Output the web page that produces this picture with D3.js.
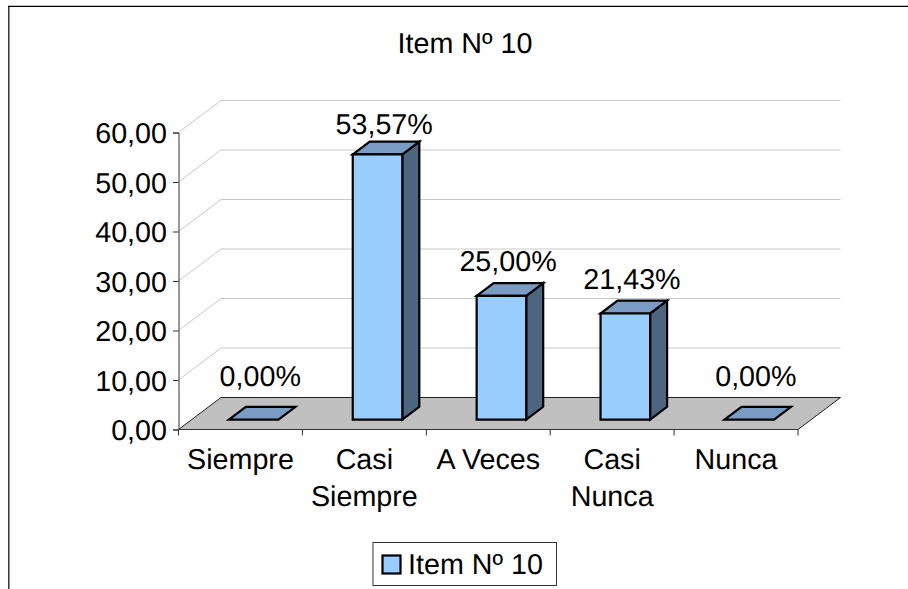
<!DOCTYPE html>
<html>
<head>
<meta charset="utf-8">
<script src="https://cdnjs.cloudflare.com/ajax/libs/d3/7.8.5/d3.min.js"></script>
<style>
html,body{margin:0;padding:0;background:#fff;}
svg{display:block;}
text{font-family:"Liberation Sans",Arial,sans-serif;fill:#000;text-rendering:geometricPrecision;}
</style>
</head>
<body>
<svg id="chart" width="908" height="589"></svg>
<script>
const categories = ["Siempre", "Casi Siempre", "A Veces", "Casi Nunca", "Nunca"];
const categoryLines = [["Siempre"], ["Casi", "Siempre"], ["A Veces"], ["Casi", "Nunca"], ["Nunca"]];
const values = [0, 53.57, 25, 21.43, 0];
const valueLabels = ["0,00%", "53,57%", "25,00%", "21,43%", "0,00%"];
const tickValues = [0, 10, 20, 30, 40, 50, 60];
const seriesName = "Item Nº 10";
const chartTitle = "Item Nº 10";

const svg = d3.select("#chart");
const FONT = 28.7;

// Plot box and the oblique projection used for the pseudo-3D look
const x0 = 178.5, x1 = 798, yBase = 429.5, yTop = 132.5;
const wallDx = 42.5, wallDy = -32;
const barNear = 0.31, barFar = 0.71;   // bar position along the depth axis
const labelShift = 19.8;               // value labels sit right of the bar's front centre
const labelLift = [21, 8, 12, 11.4, 21];

const x = d3.scaleBand().domain(categories).range([x0, x1]).paddingInner(0.6).paddingOuter(0.3);
const edges = d3.scaleLinear().domain([0, categories.length]).range([x0, x1]);
const y = d3.scaleLinear().domain([0, 60]).range([yBase, yTop]);
const depth = d3.scaleLinear().domain([0, 1]).range([[0, 0], [wallDx, wallDy]]);
const project = (px, py, d) => { const o = depth(d); return [px + o[0], py + o[1]]; };
const poly = pts => "M" + pts.map(p => p.join(",")).join("L") + "Z";

// Outer frame of the chart area: only its top and left edges fall inside the page
svg.append("path").attr("d", "M8.8,589V6.3").attr("fill", "none").attr("stroke", "#333").attr("stroke-width", 1.5);
svg.append("path").attr("d", "M8,6.3H908").attr("fill", "none").attr("stroke", "#000").attr("stroke-width", 1.2);

svg.append("text").attr("x", 465).attr("y", 52.5).attr("text-anchor", "middle")
  .attr("font-size", FONT).text(chartTitle);

// Gridlines running across the side wall and the back wall
svg.append("g").selectAll("path").data(tickValues.filter(t => t > 0)).join("path")
  .attr("d", t => `M${x0},${y(t)}L${x0 + wallDx},${y(t) + wallDy}H${x1 + wallDx}`)
  .attr("fill", "none").attr("stroke", "#c8c8c8").attr("stroke-width", 1);

// Floor
svg.append("path")
  .attr("d", poly([[x0, yBase], [x0 + wallDx, yBase + wallDy], [x1 + wallDx, yBase + wallDy], [x1, yBase]]))
  .attr("fill", "#c0c0c0").attr("stroke", "#222").attr("stroke-width", 1);

// Value axis
const fmt = d3.formatLocale({decimal: ",", thousands: ".", grouping: [3], currency: ["", ""]}).format(".2f");
const yAxis = svg.append("g").attr("transform", `translate(${x0},0)`)
  .call(d3.axisLeft(y).tickValues(tickValues).tickFormat(fmt).tickSize(5.5).tickPadding(6));
yAxis.selectAll("path,line").attr("stroke", "#333");
yAxis.selectAll("text").attr("font-size", FONT).attr("font-family", null).attr("dy", "0.35em");

// Category axis line and separators
svg.append("line").attr("x1", x0).attr("x2", x1).attr("y1", yBase).attr("y2", yBase).attr("stroke", "#333");
svg.append("g").selectAll("line").data(d3.range(categories.length + 1)).join("line")
  .attr("x1", i => edges(i)).attr("x2", i => edges(i))
  .attr("y1", yBase).attr("y2", yBase + 6).attr("stroke", "#333");

// Bars: side, top and front faces
const barGroups = svg.append("g").selectAll("g").data(categories).join("g");
const stroke = g => g.attr("stroke", "#000").attr("stroke-width", 2.2).attr("stroke-linejoin", "miter");
barGroups.each(function (c, i) {
  const g = d3.select(this), v = values[i];
  const bl = x(c), br = bl + x.bandwidth();
  const top = y(v);
  if (v > 0) {
    g.append("path").call(stroke).attr("fill", "#4d6680")
      .attr("d", poly([project(br, yBase, barNear), project(br, yBase, barFar), project(br, top, barFar), project(br, top, barNear)]));
  }
  g.append("path").call(stroke).attr("fill", "#7a9cc4")
    .attr("d", poly([project(bl, top, barNear), project(br, top, barNear), project(br, top, barFar), project(bl, top, barFar)]));
  if (v > 0) {
    g.append("path").call(stroke).attr("fill", "#99ccff")
      .attr("d", poly([project(bl, yBase, barNear), project(br, yBase, barNear), project(br, top, barNear), project(bl, top, barNear)]));
  }
  const backTop = project(bl, top, barFar)[1];
  g.append("text").attr("x", (bl + br) / 2 + labelShift).attr("y", backTop - labelLift[i])
    .attr("text-anchor", "middle").attr("font-size", FONT).text(valueLabels[i]);
});

// Category labels
svg.append("g").selectAll("text").data(categories).join("text")
  .attr("text-anchor", "middle").attr("font-size", FONT)
  .each(function (c, i) {
    d3.select(this).selectAll("tspan").data(categoryLines[i]).join("tspan")
      .attr("x", x(c) + x.bandwidth() / 2)
      .attr("y", (d, k) => 469 + k * 37)
      .text(d => d);
  });

// Legend
const legend = svg.append("g");
legend.append("rect").attr("x", 373).attr("y", 542.5).attr("width", 183.5).attr("height", 43)
  .attr("fill", "#fff").attr("stroke", "#333");
legend.append("rect").attr("x", 382.5).attr("y", 555.5).attr("width", 18).attr("height", 18)
  .attr("fill", "#99ccff").attr("stroke", "#000").attr("stroke-width", 2.2);
legend.append("text").attr("x", 408).attr("y", 574.3).attr("font-size", FONT).text(seriesName);
</script>
</body>
</html>
